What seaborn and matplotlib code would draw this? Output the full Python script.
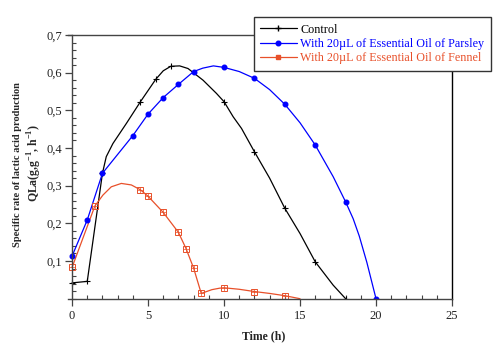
import matplotlib
matplotlib.use("Agg")
import matplotlib.pyplot as plt
from matplotlib.lines import Line2D
from matplotlib.ticker import MultipleLocator, FixedLocator, FuncFormatter
import seaborn as sns
import pandas as pd

# ---- data ----
ctrl_mx = [0, 1, 2, 4.5, 5.5, 6.5, 10, 12, 14, 16, 18]
ctrl_my = [0.042, 0.046, 0.333, 0.523, 0.582, 0.617, 0.523, 0.39, 0.24, 0.098, 0.0]
ctrl_lx = [0, 1, 2.0, 2.25, 2.69, 3.57, 4.5, 5.5, 6.0, 6.5, 7.08, 7.63, 8.62, 9.5, 10,
           10.6, 11.15, 12, 13.0, 14, 15, 16, 17.18, 18]
ctrl_ly = [0.042, 0.046, 0.333, 0.377, 0.412, 0.465, 0.523, 0.582, 0.605, 0.617, 0.618,
           0.611, 0.58, 0.545, 0.523, 0.483, 0.452, 0.39, 0.32, 0.24, 0.173, 0.098, 0.036, 0.0]

pars_mx = [0, 1, 2, 4, 5, 6, 7, 8, 10, 12, 14, 16, 18, 20]
pars_my = [0.113, 0.209, 0.333, 0.433, 0.49, 0.534, 0.569, 0.603, 0.614, 0.585, 0.516,
           0.408, 0.257, 0.0]
pars_lx = [0, 1, 2, 4, 5, 6, 7, 8, 8.6, 9.3, 10, 11, 12, 13, 14, 15, 16, 17.18, 18,
           18.5, 18.9, 19.4, 20]
pars_ly = [0.113, 0.209, 0.333, 0.433, 0.49, 0.534, 0.569, 0.603, 0.612, 0.618, 0.614,
           0.603, 0.585, 0.555, 0.516, 0.467, 0.408, 0.324, 0.257, 0.212, 0.166, 0.096, 0.0]

fen_mx = [0, 1.5, 4.5, 5, 6, 7, 7.5, 8, 8.5, 10, 12, 14]
fen_my = [0.083, 0.246, 0.289, 0.272, 0.229, 0.176, 0.133, 0.081, 0.014, 0.029, 0.019, 0.008]
fen_lx = [0, 0.8, 1.5, 2.03, 2.58, 3.24, 3.9, 4.5, 5, 6, 7, 7.5, 8, 8.5, 9.2, 9.72, 10, 11,
          12, 13, 14, 15]
fen_ly = [0.083, 0.17, 0.246, 0.275, 0.297, 0.306, 0.302, 0.289, 0.272, 0.229, 0.176, 0.133,
          0.081, 0.014, 0.024, 0.028, 0.029, 0.025, 0.019, 0.014, 0.008, 0.0]

labels = ["Control", "With 20\u00b5L of Essential Oil of Parsley",
          "With 20\u00b5L of Essential Oil of Fennel"]
colors = ["#000000", "#0000FF", "#E8502A"]
x_ticks = [0, 5, 10, 15, 20, 25]
y_ticks = [0.1, 0.2, 0.3, 0.4, 0.5, 0.6, 0.7]

sns.set_theme(style="white")
plt.rcParams["font.family"] = ["Liberation Serif", "DejaVu Serif"]
plt.rcParams["mathtext.fontset"] = "custom"
plt.rcParams["mathtext.rm"] = "Liberation Serif"
plt.rcParams["mathtext.bf"] = "Liberation Serif:bold"

fig = plt.figure(figsize=(5.0, 3.47), dpi=100)
ax = fig.add_axes([67.5 / 500, 1 - 298.7 / 347, (452 - 67.5) / 500, (298.7 - 35) / 347])

lines_def = [
    (ctrl_lx, ctrl_ly, ctrl_mx, ctrl_my, colors[0]),
    (pars_lx, pars_ly, pars_mx, pars_my, colors[1]),
    (fen_lx, fen_ly, fen_mx, fen_my, colors[2]),
]
for lx, ly, mx, my, c in lines_def:
    d = pd.DataFrame({"x": lx, "y": ly})
    sns.lineplot(data=d, x="x", y="y", ax=ax, color=c, lw=0.9, sort=False,
                 estimator=None, legend=False)

# markers
ax.plot(ctrl_mx, ctrl_my, ls="none", marker="+", ms=4.5, mew=0.8, color=colors[0])
ax.plot(pars_mx, pars_my, ls="none", marker="o", ms=3.3, color=colors[1], mec=colors[1])
ax.plot(fen_mx, fen_my, ls="none", marker="s", ms=4, mfc="none", mew=0.7, mec=colors[2])
ax.plot(fen_mx, fen_my, ls="none", marker="+", ms=4, mew=0.5, color=colors[2])

ax.set_xlim(-0.3, 25)
ax.set_ylim(0, 0.7)
ax.spines["left"].set_position(("data", 0))
for s in ax.spines.values():
    s.set_color("#444444")
    s.set_linewidth(1.0)
ax.spines["right"].set_color("#000000")

ax.xaxis.set_major_locator(FixedLocator(x_ticks))
ax.xaxis.set_minor_locator(MultipleLocator(1))
ax.yaxis.set_major_locator(FixedLocator(y_ticks))
ax.yaxis.set_minor_locator(MultipleLocator(0.02))
ax.yaxis.set_major_formatter(FuncFormatter(lambda v, p: f"{v:.1f}".replace(".", ",")))
ax.xaxis.set_major_formatter(FuncFormatter(lambda v, p: f"{v:g}"))
ax.tick_params(axis="both", which="major", direction="out", length=5, width=0.9,
               color="#444444", labelsize=9, labelcolor="#222222",
               bottom=True, left=True, top=False, right=False)
ax.tick_params(axis="x", which="major", pad=3)
ax.tick_params(axis="y", which="major", pad=2)
ax.tick_params(axis="both", which="minor", direction="in", length=3, width=0.8,
               color="#444444", bottom=True, left=True, top=False, right=False)
ax.set_xlabel("")
ax.set_ylabel("")

fig.text(18 / 500, 1 - 165 / 347, "Specific rate of lactic acid production",
         rotation=90, ha="center", va="center", fontsize=7.5, fontweight="bold")
fig.text(35 / 500, 1 - 163 / 347, r"QLa(g,g$^{\mathbf{-1}}$, h$^{\mathbf{-1}}$)",
         rotation=90, ha="center", va="center", fontsize=8.5, fontweight="bold")
fig.text(264 / 500, 1 - 336.5 / 347, "Time (h)", ha="center", va="center",
         fontsize=8.5, fontweight="bold")

handles = [
    Line2D([], [], color=colors[0], lw=0.9, marker="+", ms=4.5),
    Line2D([], [], color=colors[1], lw=0.9, marker="o", ms=3.3),
    Line2D([], [], color=colors[2], lw=0.9, marker="s", ms=3.5),
]
leg = fig.legend(handles, labels, loc="upper right", bbox_to_anchor=(491 / 500, 1 - 17 / 347),
                 fontsize=8.7, frameon=True, fancybox=False, framealpha=1, edgecolor="#333333",
                 handlelength=3.0, handletextpad=0.3, borderpad=0.55, labelspacing=0.2,
                 borderaxespad=0)
leg.get_frame().set_linewidth(1.0)
for t, c in zip(leg.get_texts(), colors):
    t.set_color(c)

fig.savefig("out.png", dpi=100)
